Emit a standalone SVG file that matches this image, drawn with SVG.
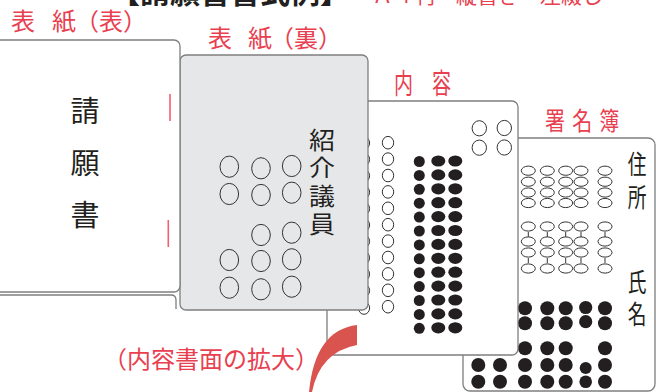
<svg xmlns="http://www.w3.org/2000/svg" width="656" height="392" viewBox="0 0 656 392">
<style>
.pg{fill:#fff;stroke:#7f7f7f;stroke-width:1.3}
.pg2{fill:#e6e7e9;stroke:#7f7f7f;stroke-width:1.3}
.oc{fill:none;stroke:#333;stroke-width:1}
.bd{fill:#231f20}
.tk{stroke:#333;stroke-width:1}
.bk{font-family:"Noto Sans CJK JP","Noto Sans CJK SC",sans-serif;fill:#231f20;text-anchor:middle}
.rd{font-family:"Noto Sans CJK JP","Noto Sans CJK SC",sans-serif;fill:#e8404f}
.rl{stroke:#f06070;stroke-width:1.6}
</style>
<g id="title">
<text class="bk" x="230" y="3" font-size="30" font-weight="bold">【請願書書式例】</text>
<text class="rd" x="372" y="3" font-size="21">Ａ４判・縦書き・左綴じ</text>
</g>
<g id="labels">
<text class="rd" font-size="24"><tspan x="11" y="30">表</tspan><tspan x="52" y="30">紙</tspan><tspan x="75" y="30">（表）</tspan></text>
<text class="rd" font-size="24"><tspan x="208" y="47">表</tspan><tspan x="248" y="47">紙</tspan><tspan x="270" y="47">（裏）</tspan></text>
<text class="rd" font-size="28" transform="translate(394,94) scale(0.68,1)">内<tspan dx="28">容</tspan></text>
<text class="rd" font-size="25" transform="translate(545,130) scale(0.8,1)">署<tspan dx="9">名</tspan><tspan dx="9">簿</tspan></text>
<text class="rd" x="103" y="368" font-size="24">（内容書面の拡大）</text>
</g>
<g id="page4">
<rect class="pg" x="463" y="138" width="192" height="253" rx="7"/>
<text class="bk" font-size="26" transform="translate(637,0) scale(0.72,1)"><tspan x="0" y="174">住</tspan><tspan x="0" y="207">所</tspan><tspan x="0" y="292">氏</tspan><tspan x="0" y="324">名</tspan></text>
<g class="oc">
<ellipse cx="528.3" cy="170.7" rx="7" ry="4.6"/><ellipse cx="547.3" cy="170.7" rx="7" ry="4.6"/><ellipse cx="565.7" cy="170.7" rx="7" ry="4.6"/><ellipse cx="581" cy="170.7" rx="7" ry="4.6"/><ellipse cx="605" cy="170.7" rx="7" ry="4.6"/>
<ellipse cx="528.3" cy="181.7" rx="7" ry="4.6"/><ellipse cx="547.3" cy="181.7" rx="7" ry="4.6"/><ellipse cx="565.7" cy="181.7" rx="7" ry="4.6"/><ellipse cx="581" cy="181.7" rx="7" ry="4.6"/><ellipse cx="605" cy="181.7" rx="7" ry="4.6"/>
<ellipse cx="528.3" cy="192.5" rx="7" ry="4.6"/><ellipse cx="547.3" cy="192.5" rx="7" ry="4.6"/><ellipse cx="565.7" cy="192.5" rx="7" ry="4.6"/><ellipse cx="581" cy="192.5" rx="7" ry="4.6"/><ellipse cx="605" cy="192.5" rx="7" ry="4.6"/>
<ellipse cx="528.3" cy="203" rx="7" ry="4.6"/><ellipse cx="547.3" cy="203" rx="7" ry="4.6"/><ellipse cx="565.7" cy="203" rx="7" ry="4.6"/><ellipse cx="581" cy="203" rx="7" ry="4.6"/><ellipse cx="605" cy="203" rx="7" ry="4.6"/>
<ellipse cx="528.3" cy="226.5" rx="7" ry="4.6"/><ellipse cx="547.3" cy="226.5" rx="7" ry="4.6"/><ellipse cx="565.7" cy="226.5" rx="7" ry="4.6"/><ellipse cx="581" cy="226.5" rx="7" ry="4.6"/><ellipse cx="605" cy="226.5" rx="7" ry="4.6"/>
<ellipse cx="528.3" cy="241.5" rx="7" ry="4.6"/><ellipse cx="547.3" cy="241.5" rx="7" ry="4.6"/><ellipse cx="565.7" cy="241.5" rx="7" ry="4.6"/><ellipse cx="581" cy="241.5" rx="7" ry="4.6"/><ellipse cx="605" cy="241.5" rx="7" ry="4.6"/>
<ellipse cx="528.3" cy="252.5" rx="7" ry="4.6"/><ellipse cx="547.3" cy="252.5" rx="7" ry="4.6"/><ellipse cx="565.7" cy="252.5" rx="7" ry="4.6"/><ellipse cx="581" cy="252.5" rx="7" ry="4.6"/><ellipse cx="605" cy="252.5" rx="7" ry="4.6"/>
<ellipse cx="528.3" cy="268.5" rx="7" ry="4.6"/><ellipse cx="547.3" cy="268.5" rx="7" ry="4.6"/><ellipse cx="565.7" cy="268.5" rx="7" ry="4.6"/><ellipse cx="581" cy="268.5" rx="7" ry="4.6"/><ellipse cx="605" cy="268.5" rx="7" ry="4.6"/>
</g>
<path class="tk" d="M528.3 232v5M547.3 232v5M565.7 232v5M581 232v5M605 232v5M528.3 258v5M547.3 258v5M565.7 258v5M581 258v5M605 258v5"/>
<g class="bd">
<circle cx="525" cy="308.3" r="7"/><circle cx="547.3" cy="308.3" r="7"/><circle cx="565.7" cy="308.3" r="7"/><circle cx="585.7" cy="307.5" r="6.6"/><circle cx="605" cy="308.3" r="7"/>
<circle cx="525" cy="323.3" r="7"/><circle cx="547.3" cy="323.3" r="7"/><circle cx="565.7" cy="323.3" r="7"/><circle cx="585.7" cy="321.7" r="6.6"/><circle cx="605" cy="323.3" r="7"/>
<circle cx="478.3" cy="348.3" r="7"/><circle cx="500" cy="348.3" r="7"/><circle cx="525" cy="348.3" r="7"/><circle cx="547.3" cy="348.3" r="7"/><circle cx="565.7" cy="348.3" r="7"/><circle cx="605" cy="348.3" r="7"/>
<circle cx="478.3" cy="365" r="7"/><circle cx="500" cy="365" r="7"/><circle cx="525" cy="365" r="7"/><circle cx="547.3" cy="365" r="7"/><circle cx="565.7" cy="365" r="7"/><circle cx="585.7" cy="368" r="6"/><circle cx="605" cy="365" r="7"/>
<circle cx="478.3" cy="381.7" r="7"/><circle cx="500" cy="381.7" r="7"/><circle cx="525" cy="381.7" r="7"/><circle cx="547.3" cy="381.7" r="7"/><circle cx="565.7" cy="381.7" r="7"/><circle cx="585.7" cy="381.7" r="6.3"/><circle cx="605" cy="381.7" r="7"/>
</g>
</g>
<g id="page3">
<rect class="pg" x="327" y="101" width="191" height="254" rx="6"/>
<g class="oc">
<ellipse cx="364" cy="143" rx="5.6" ry="6.3"/><ellipse cx="364" cy="159.4" rx="5.6" ry="6.3"/><ellipse cx="364" cy="175.8" rx="5.6" ry="6.3"/><ellipse cx="364" cy="192.2" rx="5.6" ry="6.3"/><ellipse cx="364" cy="208.6" rx="5.6" ry="6.3"/><ellipse cx="364" cy="225" rx="5.6" ry="6.3"/><ellipse cx="364" cy="241.4" rx="5.6" ry="6.3"/><ellipse cx="364" cy="257.8" rx="5.6" ry="6.3"/><ellipse cx="364" cy="274.2" rx="5.6" ry="6.3"/><ellipse cx="364" cy="290.6" rx="5.6" ry="6.3"/><ellipse cx="364" cy="308" rx="5.6" ry="6.3"/>
<ellipse cx="388" cy="142.7" rx="5.7" ry="6.3"/><ellipse cx="388" cy="159.1" rx="5.7" ry="6.3"/><ellipse cx="388" cy="175.5" rx="5.7" ry="6.3"/><ellipse cx="388" cy="191.9" rx="5.7" ry="6.3"/><ellipse cx="388" cy="208.3" rx="5.7" ry="6.3"/><ellipse cx="388" cy="224.7" rx="5.7" ry="6.3"/><ellipse cx="388" cy="241.1" rx="5.7" ry="6.3"/><ellipse cx="388" cy="257.5" rx="5.7" ry="6.3"/><ellipse cx="388" cy="273.9" rx="5.7" ry="6.3"/><ellipse cx="388" cy="290.3" rx="5.7" ry="6.3"/><ellipse cx="388" cy="306.7" rx="5.7" ry="6.3"/>
<ellipse cx="479.3" cy="128.3" rx="7.2" ry="7.6"/><ellipse cx="504.3" cy="128" rx="7.2" ry="7.6"/><ellipse cx="479.3" cy="147.7" rx="7.2" ry="7.6"/><ellipse cx="504.3" cy="147.5" rx="7.2" ry="7.6"/>
</g>
<g class="bd">
<circle cx="419.3" cy="161.5" r="5.5"/><circle cx="419.3" cy="175.4" r="5.5"/><circle cx="419.3" cy="189.3" r="5.5"/><circle cx="419.3" cy="203.2" r="5.5"/><circle cx="419.3" cy="217.1" r="5.5"/><circle cx="419.3" cy="231" r="5.5"/><circle cx="419.3" cy="244.9" r="5.5"/><circle cx="419.3" cy="258.8" r="5.5"/><circle cx="419.3" cy="272.7" r="5.5"/><circle cx="419.3" cy="286.6" r="5.5"/><circle cx="419.3" cy="300.5" r="5.5"/><circle cx="419.3" cy="314.4" r="5.5"/><circle cx="419.3" cy="328.3" r="5.5"/>
<ellipse cx="438.3" cy="161" rx="7" ry="5.6"/><ellipse cx="438.3" cy="174.9" rx="7" ry="5.6"/><ellipse cx="438.3" cy="188.8" rx="7" ry="5.6"/><ellipse cx="438.3" cy="202.7" rx="7" ry="5.6"/><ellipse cx="438.3" cy="216.6" rx="7" ry="5.6"/><ellipse cx="438.3" cy="230.5" rx="7" ry="5.6"/><ellipse cx="438.3" cy="244.4" rx="7" ry="5.6"/><ellipse cx="438.3" cy="258.3" rx="7" ry="5.6"/><ellipse cx="438.3" cy="272.2" rx="7" ry="5.6"/><ellipse cx="438.3" cy="286.1" rx="7" ry="5.6"/><ellipse cx="438.3" cy="300" rx="7" ry="5.6"/><ellipse cx="438.3" cy="313.9" rx="7" ry="5.6"/><ellipse cx="438.3" cy="327.8" rx="7" ry="5.6"/>
<ellipse cx="455.3" cy="161" rx="7" ry="5.6"/><ellipse cx="455.3" cy="174.9" rx="7" ry="5.6"/><ellipse cx="455.3" cy="188.8" rx="7" ry="5.6"/><ellipse cx="455.3" cy="202.7" rx="7" ry="5.6"/><ellipse cx="455.3" cy="216.6" rx="7" ry="5.6"/><ellipse cx="455.3" cy="230.5" rx="7" ry="5.6"/><ellipse cx="455.3" cy="244.4" rx="7" ry="5.6"/><ellipse cx="455.3" cy="258.3" rx="7" ry="5.6"/><ellipse cx="455.3" cy="272.2" rx="7" ry="5.6"/><ellipse cx="455.3" cy="286.1" rx="7" ry="5.6"/><ellipse cx="455.3" cy="300" rx="7" ry="5.6"/><ellipse cx="455.3" cy="313.9" rx="7" ry="5.6"/><ellipse cx="455.3" cy="327.8" rx="7" ry="5.6"/>
</g>
</g>
<g id="page2">
<rect class="pg2" x="180" y="55" width="188" height="255" rx="6"/>
<text class="bk" font-size="26" transform="translate(322,0) scale(1,0.9)"><tspan x="0" y="165.6">紹</tspan><tspan x="0" y="195.6">介</tspan><tspan x="0" y="227.8">議</tspan><tspan x="0" y="258.9">員</tspan></text>
<g class="oc">
<ellipse cx="229.3" cy="166.7" rx="9.3" ry="10.6"/><ellipse cx="229.3" cy="194" rx="9.3" ry="10.6"/><ellipse cx="229.3" cy="260" rx="9.3" ry="10.6"/><ellipse cx="229.3" cy="287.7" rx="9.3" ry="10.6"/>
<ellipse cx="261" cy="168.3" rx="9.3" ry="10.6"/><ellipse cx="261" cy="195" rx="9.3" ry="10.6"/><ellipse cx="261" cy="235" rx="9.3" ry="10.6"/><ellipse cx="261" cy="261" rx="9.3" ry="10.6"/><ellipse cx="261" cy="289.3" rx="9.3" ry="10.6"/>
<ellipse cx="291.7" cy="166" rx="9.3" ry="10.6"/><ellipse cx="291.7" cy="192.7" rx="9.3" ry="10.6"/><ellipse cx="291.7" cy="232.7" rx="9.3" ry="10.6"/><ellipse cx="291.7" cy="259.3" rx="9.3" ry="10.6"/><ellipse cx="291.7" cy="286.7" rx="9.3" ry="10.6"/>
</g>
</g>
<g id="page1">
<path class="pg" d="M-10 295H171Q176 295 176 300V309" fill="none"/>
<rect class="pg" x="-10" y="40" width="190" height="252" rx="6"/>
<text class="bk" font-size="29"><tspan x="85" y="122">請</tspan><tspan x="85" y="174">願</tspan><tspan x="85" y="226">書</tspan></text>
<path class="rl" d="M170 94V121M168.3 220V247"/>
</g>
<g id="connectors">
<path d="M357 325Q315 330 309 392L312 392Q320 352 357 345Z" fill="#d9534f"/>
</g>
</svg>
